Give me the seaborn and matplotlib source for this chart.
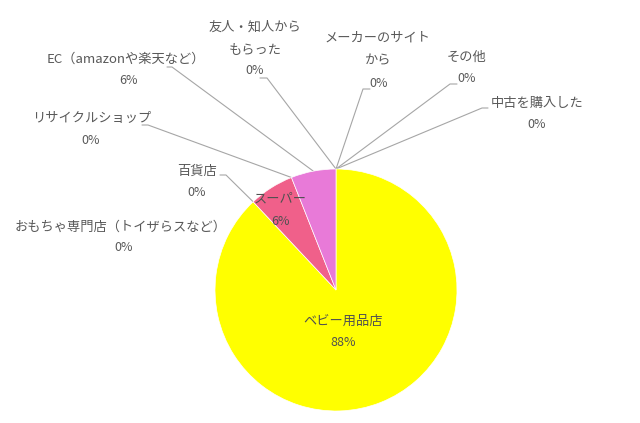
import numpy as np
import matplotlib
matplotlib.use("Agg")
import matplotlib.pyplot as plt
import seaborn as sns

# ---- data ----
categories = ["ベビー用品店", "おもちゃ専門店（トイザらスなど）", "百貨店", "スーパー",
              "リサイクルショップ", "EC（amazonや楽天など）", "友人・知人からもらった",
              "メーカーのサイトから", "その他", "中古を購入した"]
values = [88, 0, 0, 6, 0, 6, 0, 0, 0, 0]
display_lines = [["ベビー用品店"], ["おもちゃ専門店（トイザらスなど）"], ["百貨店"], ["スーパー"],
                 ["リサイクルショップ"], ["EC（amazonや楽天など）"], ["友人・知人から", "もらった"],
                 ["メーカーのサイト", "から"], ["その他"], ["中古を購入した"]]
colors = ["#FFFF00", "#F4A0C0", "#F080A8", "#F0608A", "#E890D0",
          "#E87AD8", "#D8A0E0", "#C0C0E8", "#A0C8F0", "#90D8D8"]

# ---- layout (pixel positions of label text lines, leader-line start points) ----
label_pos = [(343, 321), (121, 227), (197, 171), (280, 199), (92, 118),
             (126, 59), (255, 27), (378, 38), (467, 57), (537, 103)]
pct_pos = [(343, 342), (124, 247), (197, 192), (281, 221), (91, 140),
           (129, 80), (255, 70), (379, 83), (467, 78), (537, 124)]
leader_start = [None, None, (220, 175), None, (142, 125),
                (167, 67), (260, 78), (370, 89), (457, 84), (488, 108)]
leader_dx = [0, 0, 6, 0, 6, 5, 7, -7, -7, -6]
line_step = 23

sns.set_theme(style="white")
plt.rcParams['font.family'] = ['Noto Sans CJK JP', 'DejaVu Sans']

fig = plt.figure(figsize=(6.4, 4.23), dpi=100)
ax = fig.add_axes([0, 0, 1, 1])
cx, cy, r = 336, 290, 121
wedges, _ = ax.pie(values, colors=colors, startangle=-90, counterclock=True,
                   center=(cx, cy), radius=r,
                   wedgeprops=dict(edgecolor="white", linewidth=0.5))
for w, v in zip(wedges, values):
    if v == 0:
        w.set_visible(False)
ax.set_xlim(0, 640)
ax.set_ylim(423, 0)
ax.set_aspect("equal")
ax.axis("off")

txt_color = "#595959"
fs = 9.5
for i, (w, v) in enumerate(zip(wedges, values)):
    lx, ly = label_pos[i]
    for k, line in enumerate(display_lines[i]):
        ax.text(lx, ly + k * line_step, line, ha="center", va="center",
                fontsize=fs, color=txt_color if i not in (0, 3) else "#505050")
    px, py = pct_pos[i]
    ax.text(px, py, f"{v}%", ha="center", va="center", fontsize=fs - 0.5,
            color=txt_color if i not in (0, 3) else "#505050")
    if leader_start[i] is not None:
        th = np.deg2rad(w.theta1 if v == 0 else (w.theta1 + w.theta2) / 2)
        axp = cx + r * np.cos(th)
        ayp = cy + r * np.sin(th)
        sx, sy = leader_start[i]
        ax.plot([sx, sx + leader_dx[i], axp], [sy, sy, ayp],
                color="#A6A6A6", linewidth=0.8, zorder=0.5)

fig.savefig("out.png", dpi=100, facecolor="white")
